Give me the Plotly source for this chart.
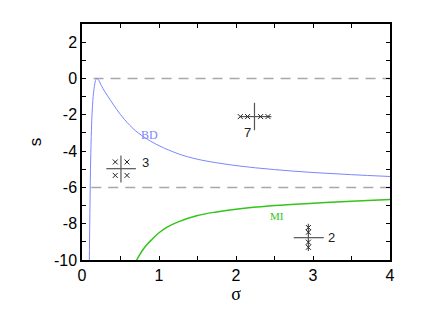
import plotly.graph_objects as go

# BD curve
bd_sigma = [0.095, 0.10, 0.105, 0.11, 0.12, 0.13, 0.145, 0.16, 0.175, 0.19, 0.205, 0.22, 0.25, 0.30,
            0.37, 0.45, 0.55, 0.70, 0.85, 1.0, 1.25, 1.5, 2.0, 2.5, 3.0, 3.5, 4.0]
bd_s = [-10.0, -8.3, -6.6, -5.0, -3.2, -2.0, -1.0, -0.45, -0.12, 0.0, -0.02, -0.12, -0.38, -0.75,
        -1.2, -1.7, -2.25, -2.9, -3.35, -3.7, -4.15, -4.45, -4.8, -5.02, -5.18, -5.3, -5.4]

# MI curve
mi_sigma = [0.71, 0.75, 0.80, 0.85, 0.90, 1.0, 1.1, 1.25, 1.5, 1.75, 2.0, 2.5, 3.0, 3.5, 4.0]
mi_s = [-10.0, -9.7, -9.38, -9.12, -8.9, -8.5, -8.2, -7.9, -7.55, -7.35, -7.2, -7.0, -6.87, -6.76, -6.67]

# dashed reference levels
levels = [0, -6]
level_start = [0.15, 0.12]

# axis ticks
x_ticks = [0, 1, 2, 3, 4]
y_ticks = [-10, -8, -6, -4, -2, 0, 2]
y_ticklabels = ["-10", "-8", "-6", "-4", "-2", "0", "2"]

# glyph groups: x marks
g3_x = [0.432, 0.584, 0.432, 0.584]
g3_y = [-4.6, -4.6, -5.34, -5.34]
g7_x = [2.056, 2.15, 2.32, 2.415]
g7_y = [-2.1, -2.1, -2.1, -2.1]
g2_x = [2.94, 2.94, 2.94, 2.94]
g2_y = [-8.21, -8.47, -9.02, -9.30]

crosses = [
    # (x0, x1, yc, xc, y0, y1)
    (0.316, 0.70, -4.97, 0.506, -4.24, -5.73),
    (2.06, 2.46, -2.1, 2.24, -1.34, -2.85),
    (2.75, 3.14, -8.77, 2.94, -8.0, -9.5),
]
labels = [("3", 0.82, -4.65), ("7", 2.15, -3.0), ("2", 3.24, -8.77)]

fig = go.Figure()

for lv, st in zip(levels, level_start):
    fig.add_trace(go.Scatter(x=[st, 4], y=[lv, lv], mode="lines",
                             line=dict(color="#a8a8a8", width=1.5, dash="10px,7px"),
                             showlegend=False, hoverinfo="skip"))

fig.add_trace(go.Scatter(x=bd_sigma, y=bd_s, mode="lines", line=dict(color="#7b86ff", width=1, shape="spline"),
                         showlegend=False))
fig.add_trace(go.Scatter(x=mi_sigma, y=mi_s, mode="lines", line=dict(color="#33c41c", width=1.5, shape="spline"),
                         showlegend=False))

for x0, x1, yc, xc, y0, y1 in crosses:
    fig.add_trace(go.Scatter(x=[x0, x1], y=[yc, yc], mode="lines", line=dict(color="#555555", width=1.2),
                             showlegend=False, hoverinfo="skip"))
    fig.add_trace(go.Scatter(x=[xc, xc], y=[y0, y1], mode="lines", line=dict(color="#555555", width=1.2),
                             showlegend=False, hoverinfo="skip"))

for gx, gy in [(g3_x, g3_y), (g7_x, g7_y), (g2_x, g2_y)]:
    fig.add_trace(go.Scatter(x=gx, y=gy, mode="markers",
                             marker=dict(symbol="x-thin", size=5, line=dict(color="#222222", width=1)),
                             showlegend=False))

for txt, x, y in labels:
    fig.add_annotation(x=x, y=y, text=txt, showarrow=False,
                       font=dict(family="Liberation Sans, Arial", size=13, color="#222222"))

fig.add_annotation(x=0.88, y=-3.1, text="BD", showarrow=False,
                   font=dict(family="Liberation Serif, Times New Roman", size=12, color="#7b86ff"))
fig.add_annotation(x=2.53, y=-7.57, text="MI", showarrow=False,
                   font=dict(family="Liberation Serif, Times New Roman", size=11, color="#33c41c"))

axis_common = dict(showgrid=False, zeroline=False, showline=True, linecolor="black", linewidth=1.5,
                   mirror="allticks", ticks="inside", ticklen=4, tickcolor="black", tickwidth=1,
                   tickfont=dict(family="Liberation Sans, Arial", size=16, color="black"))

fig.update_xaxes(range=[0, 4], tickvals=x_ticks,
                 minor=dict(dtick=0.5, ticks="inside", ticklen=4, tickcolor="black"),
                 title=dict(text="σ", font=dict(family="Liberation Serif", size=18, color="black"), standoff=0),
                 **axis_common)
fig.update_yaxes(range=[-10, 3], tickvals=y_ticks, ticktext=y_ticklabels,
                 minor=dict(dtick=1, ticks="inside", ticklen=4, tickcolor="black"),
                 title=dict(text="s", font=dict(family="Liberation Sans", size=17, color="black"), standoff=8),
                 **axis_common)

# page body adds an 8px offset, so margins are shifted to compensate
fig.update_layout(width=436, height=321, margin=dict(l=74, r=54, t=16, b=69),
                  plot_bgcolor="white", paper_bgcolor="white")

fig.write_html("out.html")
